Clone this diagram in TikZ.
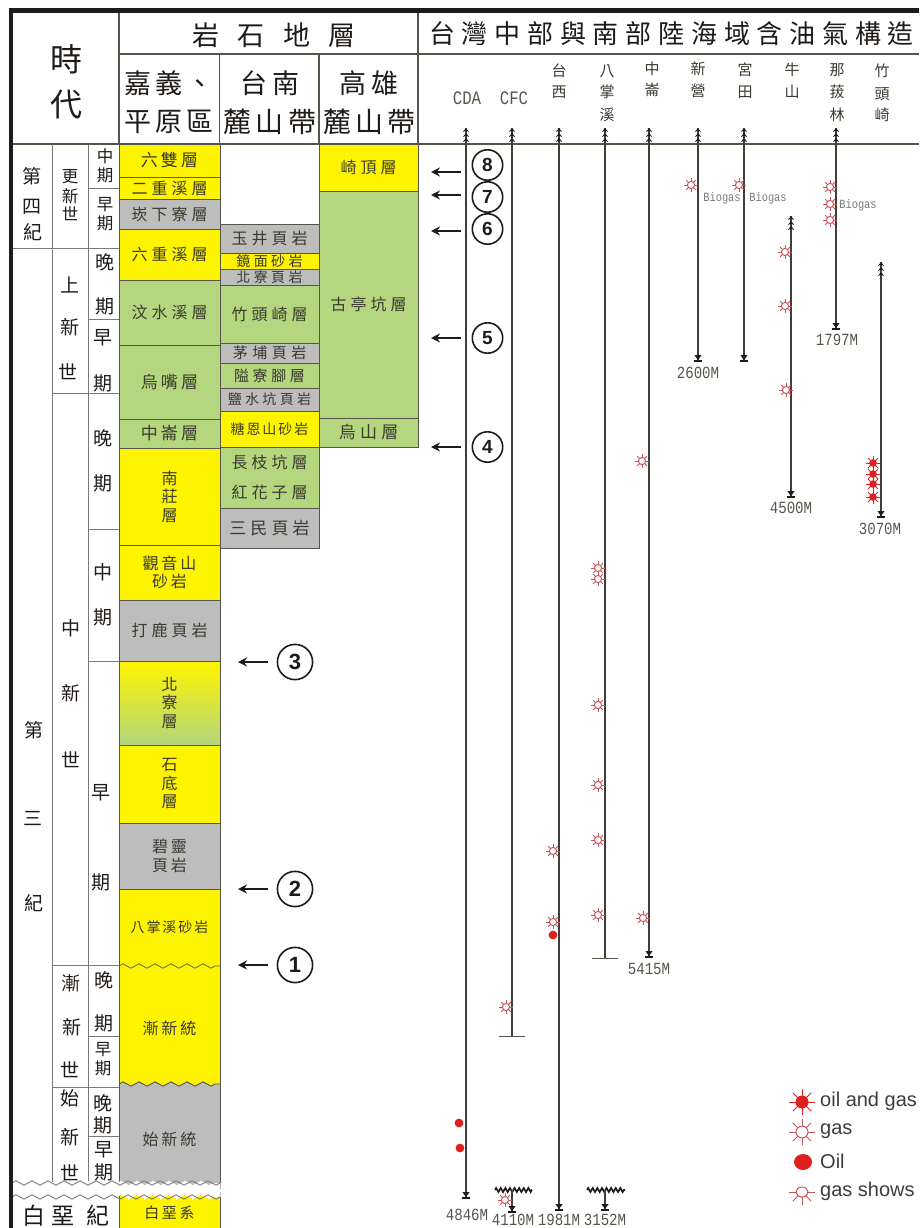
\documentclass[tikz,border=0pt]{standalone}
\usepackage{fontspec}
\setmainfont{Noto Sans CJK TC}
\setsansfont{Liberation Sans}
\newfontfamily\depthfont[FakeStretch=0.83]{Liberation Mono}
\usetikzlibrary{arrows.meta,decorations.pathmorphing}
\definecolor{ink}{HTML}{1F1B18}
\definecolor{grid}{HTML}{55554A}
\definecolor{soft}{HTML}{7A7A7A}
\definecolor{txt}{HTML}{3A3A2E}
\definecolor{lithy}{HTML}{FFF400}
\definecolor{lithg}{HTML}{B3D67E}
\definecolor{liths}{HTML}{BDBDBD}
\definecolor{oilred}{HTML}{E0201F}
\definecolor{gasred}{HTML}{C9545A}
\tikzset{
  lith/.style={fill=#1, draw=grid, line width=0.9pt},
  lab/.style 2 args={font=\fontsize{#1}{18.5}\selectfont\addfontfeature{LetterSpace=#2}, text=txt, align=center, inner sep=0pt},
  hdr/.style 2 args={font=\fontsize{#1}{#1}\selectfont\addfontfeature{LetterSpace=#2}, text=ink, inner sep=0pt},
  agelab/.style={font=\fontsize{19}{19}\selectfont, text=ink, inner sep=0pt},
  agesmall/.style={font=\fontsize{16.5}{16.5}\selectfont, text=ink, inner sep=0pt},
  wellname/.style={font=\fontsize{15}{15}\selectfont, text=txt, inner sep=0pt},
  rule/.style={draw=grid, line width=1.3pt},
  thin/.style={draw=soft, line width=0.9pt},
  wl/.style={draw=ink!85, line width=1.5pt},
  depth/.style={font=\depthfont\fontsize{17}{17}\selectfont, text=txt!85, inner sep=0pt},
  biolab/.style={font=\depthfont\fontsize{12.5}{12.5}\selectfont, text=soft, inner sep=0pt},
  nr/.style={circle, draw=ink, line width=1.6pt, font=\sffamily\bfseries\fontsize{#1}{#1}\selectfont,
    text=ink, inner sep=0pt, minimum size=1.6*#1 pt},
  lp/.style={draw=ink, line width=1.8pt, -{Stealth[length=9pt,width=9pt]}},
  wave/.style={decoration={zigzag,segment length=16pt,amplitude=2.2pt}},
  wavebar/.style={draw=ink, line width=1.7pt, decorate, decoration={zigzag,segment length=4.6pt,amplitude=2pt}},
  leg/.style={font=\sffamily\fontsize{20}{20}\selectfont, text=ink!85, anchor=west, inner sep=0pt},
  ray/.style={draw=gasred, line width=1pt},
  gasmark/.pic={
    \draw[ray, fill=white] (0,0) circle (3.6);
    \foreach \a in {0,45,...,315} \draw[ray] (\a:3.6) -- (\a:6.8);
  },
  oilgasmark/.pic={
    \foreach \a in {0,45,...,315} \draw[draw=oilred, line width=0.9pt] (0,0) -- (\a:7);
    \fill[oilred] (0,0) circle (3.8);
  },
  wellhead/.pic={
    \foreach \d in {0,5,10} \fill[ink] (0,\d) -- (3.2,\d+4) -- (0,\d+2.6) -- (-3.2,\d+4) -- cycle;
  },
  wellend/.pic={
    \fill[ink] (-3.6,-6) -- (3.6,-6) -- (0,-1) -- cycle;
    \draw[ink, line width=1.2pt] (-4.2,0) -- (4.2,0);
  },
}
\begin{document}
\begin{tikzpicture}[x=1pt,y=-1pt]
  \useasboundingbox (0,0) rectangle (919,1228);
  \clip (0,0) rectangle (919,1228);
  \fill[white] (0,0) rectangle (919,1228);
  % first lithology column
  \foreach \ya/\yb/\c/\t/\s/\l in {144/177/lithy/六雙層/17/18,177/199/lithy/二重溪層/16/25,199/229/liths/崁下寮層/16/25,
    229/280/lithy/六重溪層/16/25,280/345/lithg/汶水溪層/16/25,345/419/lithg/烏嘴層/17/18,419/448/lithg/中崙層/17/18,
    448/545/lithy/{南\\莊\\層}/16/0,545/600/lithy/{觀音山\\砂岩}/16/18,600/661/liths/打鹿頁岩/16/25,
    745/823/lithy/{石\\底\\層}/16/0,823/889/liths/{碧靈\\頁岩}/16/18,889/966/lithy/八掌溪砂岩/14/14}
    \path[lith=\c] (119,\ya) rectangle (220,\yb) node[midway,lab={\s}{\l}] (ca\ya) {\t};
  \shade[top color=lithy,bottom color=lithg] (119,661) rectangle (220,745);
  \draw[grid,line width=0.9pt] (119,661) rectangle (220,745);
  \node[lab={16}{0}] (bl) at (169.5,703) {北\\寮\\層};
  % second lithology column
  \foreach \ya/\yb/\c/\t/\s/\l in {224/253/liths/玉井頁岩/16/25,253/269/lithy/鏡面砂岩/14/24,269/285/liths/北寮頁岩/14/24,
    285/343/lithg/竹頭崎層/16/25,343/363/liths/茅埔頁岩/15/30,363/388/lithg/隘寮腳層/15/24,388/411/liths/鹽水坑頁岩/14/24,
    411/447/lithy/糖恩山砂岩/14/14,447/508/lithg/{長枝坑層\\[12pt]紅花子層}/16/25,508/548/liths/三民頁岩/17/24}
    \path[lith=\c] (220,\ya) rectangle (319,\yb) node[midway,lab={\s}{\l}] (cb\ya) {\t};
  % third lithology column
  \foreach \ya/\yb/\c/\t/\s/\l in {144/191/lithy/崎頂層/16/25,191/418/lithg/古亭坑層/16/25,418/447/lithg/烏山層/17/25}
    \path[lith=\c] (319,\ya) rectangle (418,\yb) node[midway,lab={\s}{\l}] (cc\ya) {\t};
  % lower units, cut by the unconformities
  \fill[lithy] (119,966) rectangle (220,1092);
  \draw[grid,line width=0.9pt] (119,966) -- (119,1092) (220,966) -- (220,1092);
  \draw[grid,line width=0.7pt,decorate,wave] (119,966) -- (220,966);
  \fill[liths,wave] decorate {(119,1084) -- (220,1084)} -- (220,1190) -- (119,1190) -- cycle;
  \draw[grid,line width=0.9pt,decorate,wave] (119,1084) -- (220,1084);
  \draw[grid,line width=0.9pt] (119,1084) -- (119,1190) (220,1084) -- (220,1190);
  \fill[lithy] (119,1192) rectangle (220,1228);
  \draw[grid,line width=0.9pt] (119,1192) rectangle (220,1230);
  % time columns
  \draw[thin] (52,144) -- (52,1182);
  \draw[thin] (88,144) -- (88,1182);
  \foreach \ya/\xa in {248/12,393/52,965/52,1087/52} \draw[thin] (\xa,\ya) -- (119,\ya);
  \foreach \ya in {188,319,529,661,1036,1136} \draw[thin] (88,\ya) -- (119,\ya);
  \fill[white,wave] decorate {(5,1183) -- (220.5,1183)} -- (220.5,1190) -- (5,1190) -- cycle;
  \fill[white,wave] decorate {(5,1197) -- (220.5,1197)} -- (220.5,1190) -- (5,1190) -- cycle;
  \draw[soft,line width=0.9pt,decorate,wave] (12,1183) -- (220,1183);
  \draw[soft,line width=0.9pt,decorate,wave] (12,1197) -- (220,1197);
  \node[lab={16}{18}] (ya) at (169.5,1028) {漸新統};
  \node[lab={16}{18}] (ea) at (169.5,1139) {始新統};
  \node[lab={15}{18}] (kr) at (169.5,1213) {白堊系};
  \foreach \x/\y/\t in {32/176/第,32/207/四,33/232/紀,34/730/第,33/818/三,34/903/紀,
    70/285/上,70/327/新,68/372/世,71/628/中,71/693/新,71/760/世,
    71/983/漸,72/1027/新,70/1070/世,70/1098/始,70/1137/新,70/1173/世,
    105/262/晚,105/306/期,103/338/早,103/383/期,
    103/438/晚,103/483/期,103/572/中,103/617/期,101/793/早,101/882/期,
    104/980/晚,104/1023/期,103/1103/晚,103/1125/期,104/1150/早,104/1172/期}
    \node[agelab] (age\x-\y) at (\x,\y) {\t};
  \foreach \x/\y/\t in {70/177/更,70/196/新,70/214/世,105/156/中,105/175/期,105/205/早,105/223/期,103/1050/早,103/1068/期}
    \node[agesmall] (age\x-\y) at (\x,\y) {\t};
  \foreach \x/\t in {34/白,63/堊,98/紀} \node[hdr={23}{0}] (kt\x) at (\x,1216) {\t};
  % header
  \draw[rule] (119,54) -- (919,54);
  \draw[rule,line width=1.8pt] (12,144) -- (919,144);
  \draw[rule] (119,13) -- (119,144);
  \draw[rule] (219.5,54) -- (219.5,144);
  \draw[rule] (319,54) -- (319,144);
  \draw[rule] (418,13) -- (418,144);
  \fill[ink] (9,8) rectangle (919,13);
  \fill[ink] (9,8) rectangle (12.5,1228);
  \node[hdr={32}{0}] (sh) at (66,59) {時};
  \node[hdr={32}{0}] (dai) at (66,105) {代};
  \node[hdr={27}{67}] (lith0) at (274,35) {岩石地層};
  \node[hdr={26}{26}] (title) at (671.5,34) {台灣中部與南部陸海域含油氣構造};
  \node[hdr={27}{15}] (h1a) at (169,83) {嘉義、};
  \node[hdr={27}{15}] (h1b) at (169,122) {平原區};
  \node[hdr={27}{20}] (h2a) at (270,83) {台南};
  \node[hdr={28}{15}] (h2b) at (270,122) {麓山帶};
  \node[hdr={27}{20}] (h3a) at (369,83) {高雄};
  \node[hdr={28}{15}] (h3b) at (369.5,122) {麓山帶};
  % well names
  \node[depth,font=\depthfont\fontsize{19}{19}\selectfont] (cda) at (467,98) {CDA};
  \node[depth,font=\depthfont\fontsize{19}{19}\selectfont] (cfc) at (514,98) {CFC};
  \foreach \x/\y/\t in {559/71/台,559/92/西,607/71/八,607/92/掌,607/115/溪,652/69/中,652/90/崙,698/69/新,698/91/營,
    745/70/宮,745/92/田,792/70/牛,792/92/山,837/70/那,837/92/菝,837/115/林,882/71/竹,882/94/頭,882/115/崎}
    \node[wellname] (wn\x-\y) at (\x,\y) {\t};
  % wells with a depth mark at the end
  \foreach \nm/\x/\ya/\yb in {cda/466/128/1198,tx/559/128/1210,zl/649/128/957,xy/698/128/361,gt/744/128/361,ns/791/216/497,nb/836/128/329,ztq/881/262/517} {
    \coordinate (top\nm) at (\x,\ya);
    \coordinate (end\nm) at (\x,\yb);
    \draw[wl] (top\nm) -- (end\nm);
    \pic at (top\nm) {wellhead};
    \pic at (end\nm) {wellend};
  }
  % wells cut off by a fault
  \foreach \nm/\x/\yb in {cfc/512/1036,bzx/605/958} {
    \coordinate (top\nm) at (\x,128);
    \coordinate (end\nm) at (\x,\yb);
    \draw[wl] (top\nm) -- (end\nm);
    \pic at (top\nm) {wellhead};
    \draw[grid,line width=1pt] (\x-13,\yb) -- (\x+13,\yb);
  }
  \foreach \nm/\x/\xa/\xb/\yb in {cfc/512/495/532/1212,bzx/605/587/625/1210} {
    \coordinate (fl\nm) at (\x,1190);
    \coordinate (fe\nm) at (\x,\yb);
    \draw[wavebar] (\xa,1190) -- (\xb,1190);
    \draw[wl] (fl\nm) -- (fe\nm);
    \pic at (fe\nm) {wellend};
  }
  \foreach \x/\y/\t in {467/1215/4846M,513/1220/4110M,559/1220/1981M,605/1220/3152M,649/969/5415M,
    698/373/2600M,791/508/4500M,837/340/1797M,880/529/3070M}
    \node[depth] (d\t) at (\x,\y) {\t};
  \foreach \x/\y/\n in {722/198/a,768/198/b,858/205/c} \node[biolab] (bio\n) at (\x,\y) {Biogas};
  % shows
  \foreach \p in {(505,1200),(506,1007),(553,851),(553,922),(598,568),(598,579),(598,705),(598,785),(598,840),(598,915),
    (643,918),(642,461),(691,185),(739,185),(785,252),(785,306),(786,390),(830,187),(830,204),(830,220)}
    \pic at \p {gasmark};
  \foreach \y in {463,474,484,497} \pic at (873,\y) {oilgasmark};
  \foreach \p in {(553,935),(459,1123),(460,1148)} \fill[oilred] \p circle (4.4);
  % numbered markers
  \foreach \n/\ay/\cy in {8/172/165,7/195/197,6/231/229,5/338/338,4/447/447} {
    \node[nr=19] (nr\n) at (487.5,\cy) {\n};
    \coordinate (tl\n) at (461,\ay);
    \coordinate (tp\n) at (431,\ay);
    \draw[lp] (tl\n) -- (tp\n);
  }
  \foreach \n/\ay in {3/662,2/889,1/965} {
    \node[nr=22] (nr\n) at (295,\ay) {\n};
    \coordinate (tl\n) at (268,\ay);
    \coordinate (tp\n) at (238,\ay);
    \draw[lp] (tl\n) -- (tp\n);
  }
  % legend
  \foreach \a in {0,45,...,315} \draw[oilred,line width=0.9pt] (802,1102) -- ++(\a:13);
  \fill[oilred] (802,1102) circle (6.5);
  \node[leg] (loil) at (820,1101) {oil and gas};
  \foreach \a in {0,45,...,315} \draw[ray] (802,1132) ++(\a:6) -- ++(\a:7);
  \draw[ray] (802,1132) circle (6);
  \node[leg] (lgas) at (820,1131) {gas};
  \fill[oilred] (803,1162) ellipse (9 and 8);
  \node[leg] (lo) at (820,1161) {Oil};
  \foreach \a in {0,45,90,135,180} \draw[ray] (802,1192) ++(\a:5) -- ++(\a:8);
  \draw[ray] (802,1192) ellipse (6 and 5);
  \node[leg] (lsh) at (820,1191) {gas shows};
\end{tikzpicture}
\end{document}
